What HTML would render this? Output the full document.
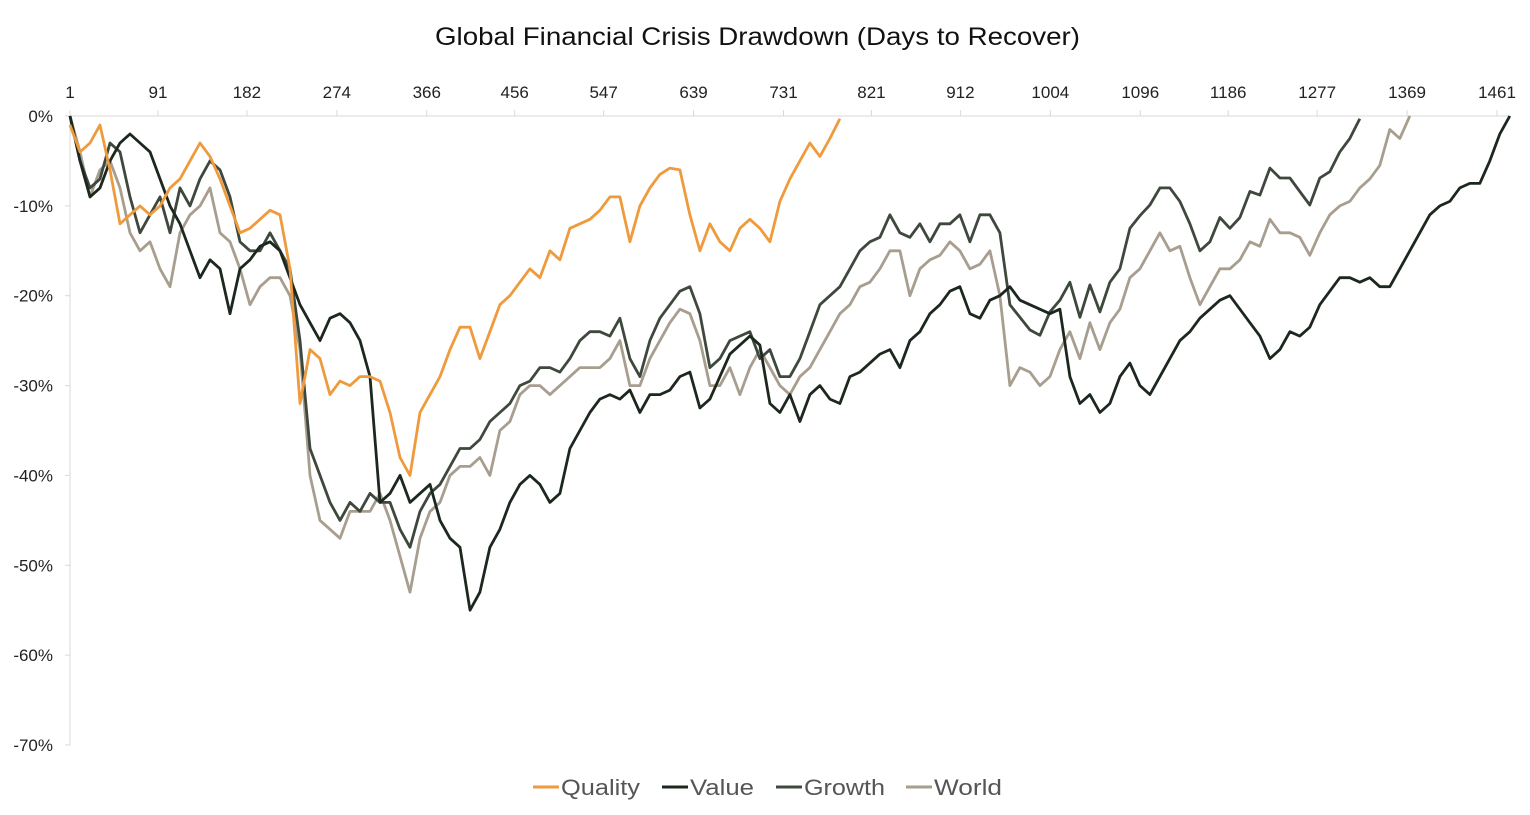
<!DOCTYPE html>
<html><head><meta charset="utf-8">
<style>
body{margin:0;background:#fff;}
svg{display:block;font-family:"Liberation Sans",sans-serif;}
</style></head>
<body>
<svg id="chart" width="1530" height="815">
<text x="435" y="45" textLength="645" lengthAdjust="spacingAndGlyphs" font-size="25" fill="#111">Global Financial Crisis Drawdown (Days to Recover)</text>
<g id="axes"></g>
<g id="series"></g>
<g id="legend"></g>
</svg>
<script>
const xTickLabels = [1,91,182,274,366,456,547,639,731,821,912,1004,1096,1186,1277,1369,1461];
const yTickValues = [0,-10,-20,-30,-40,-50,-60,-70];
const seriesNames = ["Quality","Value","Growth","World"];
const sampleStepDays = 10.23;
const qualityValues = [-1,-4,-3,-1,-6,-12,-11,-10,-11,-10,-8,-7,-5,-3,-4.5,-7,-10,-13,-12.5,-11.5,-10.5,-11,-17,-32,-26,-27,-31,-29.5,-30,-29,-29,-29.5,-33,-38,-40,-33,-31,-29,-26,-23.5,-23.5,-27,-24,-21,-20,-18.5,-17,-18,-15,-16,-12.5,-12,-11.5,-10.5,-9,-9,-14,-10,-8,-6.5,-5.8,-6,-11,-15,-12,-14,-15,-12.5,-11.5,-12.5,-14,-9.5,-7,-5,-3,-4.5,-2.5,-0.3];
const valueValues = [0,-5,-9,-8,-5,-3,-2,-3,-4,-7,-10,-12,-15,-18,-16,-17,-22,-17,-16,-14.5,-14,-15,-18,-21,-23,-25,-22.5,-22,-23,-25,-29,-43,-42,-40,-43,-42,-41,-45,-47,-48,-55,-53,-48,-46,-43,-41,-40,-41,-43,-42,-37,-35,-33,-31.5,-31,-31.5,-30.5,-33,-31,-31,-30.5,-29,-28.5,-32.5,-31.5,-29,-26.5,-25.5,-24.5,-25.5,-32,-33,-31,-34,-31,-30,-31.5,-32,-29,-28.5,-27.5,-26.5,-26,-28,-25,-24,-22,-21,-19.5,-19,-22,-22.5,-20.5,-20,-19,-20.5,-21,-21.5,-22,-21.5,-29,-32,-31,-33,-32,-29,-27.5,-30,-31,-29,-27,-25,-24,-22.5,-21.5,-20.5,-20,-21.5,-23,-24.5,-27,-26,-24,-24.5,-23.5,-21,-19.5,-18,-18,-18.5,-18,-19,-19,-17,-15,-13,-11,-10,-9.5,-8,-7.5,-7.5,-5,-2,0];
const growthValues = [0,-5,-8,-7,-3,-4,-9,-13,-11,-9,-13,-8,-10,-7,-5,-6,-9,-14,-15,-15,-13,-15,-17,-25,-37,-40,-43,-45,-43,-44,-42,-43,-43,-46,-48,-44,-42,-41,-39,-37,-37,-36,-34,-33,-32,-30,-29.5,-28,-28,-28.5,-27,-25,-24,-24,-24.5,-22.5,-27,-29,-25,-22.5,-21,-19.5,-19,-22,-28,-27,-25,-24.5,-24,-27,-26,-29,-29,-27,-24,-21,-20,-19,-17,-15,-14,-13.5,-11,-13,-13.5,-12,-14,-12,-12,-11,-14,-11,-11,-13,-21,-22.4,-23.8,-24.4,-21.8,-20.5,-18.5,-22.4,-18.8,-21.8,-18.5,-17,-12.5,-11.1,-9.9,-8,-8,-9.5,-12,-15,-14,-11.3,-12.5,-11.3,-8.4,-8.8,-5.8,-6.9,-6.9,-8.4,-9.9,-6.9,-6.2,-4,-2.5,-0.3];
const worldValues = [0,-4,-9,-6,-5,-8,-13,-15,-14,-17,-19,-13,-11,-10,-8,-13,-14,-17,-21,-19,-18,-18,-20,-26,-40,-45,-46,-47,-44,-44,-44,-42,-45,-49,-53,-47,-44,-43,-40,-39,-39,-38,-40,-35,-34,-31,-30,-30,-31,-30,-29,-28,-28,-28,-27,-25,-30,-30,-27,-25,-23,-21.5,-22,-25,-30,-30,-28,-31,-28,-26,-28,-30,-31,-29,-28,-26,-24,-22,-21,-19,-18.5,-17,-15,-15,-20,-17,-16,-15.5,-14,-15,-17,-16.5,-15,-20,-30,-28,-28.5,-30,-29,-26,-24,-27,-23,-26,-23,-21.5,-18,-17,-15,-13,-15,-14.5,-18,-21,-19,-17,-17,-16,-14,-14.5,-11.5,-13,-13,-13.5,-15.5,-13,-11,-10,-9.5,-8,-7,-5.5,-1.5,-2.5,0];
const seriesValues = [qualityValues, valueValues, growthValues, worldValues];
const seriesColors = ["#ef9a3c","#1c281e","#3e483d","#a89e8f"];

const NS="http://www.w3.org/2000/svg";
const X0=70, X1=1497, Y0=116, Y1=745;
function xScale(d){return X0+(d-1)*(X1-X0)/(1461-1);}
function yScale(v){return Y0+(0-v)*(Y1-Y0)/70;}
function mk(tag,attrs,parent){const e=document.createElementNS(NS,tag);for(const k in attrs)e.setAttribute(k,attrs[k]);parent.appendChild(e);return e;}

const axes=document.getElementById('axes');
const topAxis=mk('line',{x1:X0,y1:Y0,x2:1510,y2:Y0,stroke:'#d9d9d9','stroke-width':1},axes);


const leftAxis=mk('line',{x1:X0,y1:Y0,x2:X0,y2:Y1,stroke:'#d9d9d9','stroke-width':1},axes);


xTickLabels.forEach(d=>{
  const x=xScale(d);
  const tk=mk('line',{x1:x,y1:Y0-6,x2:x,y2:Y0,stroke:'#d9d9d9'},axes);
  
  
  const t=mk('text',{x:x,y:98,'text-anchor':'middle','font-size':17,fill:'#222'},axes);
  t.textContent=d;
  
  
});
yTickValues.forEach(v=>{
  const y=yScale(v);
  const tk=mk('line',{x1:X0-5,y1:y,x2:X0,y2:y,stroke:'#d9d9d9'},axes);
  
  
  const t=mk('text',{x:53,y:y+6,'text-anchor':'end','font-size':17,fill:'#222'},axes);
  t.textContent=v+'%';
  
  
});

const sg=document.getElementById('series');
seriesValues.slice().reverse().forEach((vals,ri)=>{
  const i=seriesValues.length-1-ri;
  const pts=vals.map((v,k)=>xScale(1+k*sampleStepDays).toFixed(1)+','+yScale(Math.min(v,0)).toFixed(1)).join(' ');
  const pl=mk('polyline',{points:pts,fill:'none',stroke:seriesColors[i],'stroke-width':2.8,'stroke-linejoin':'round'},sg);
  
  
});

const lg=document.getElementById('legend');
const legendX=[533,662,776,906];
const legendW=[79,64,81,68];
seriesNames.forEach((n,i)=>{
  const g=mk('g',{},lg);
  
  
  mk('line',{x1:legendX[i],y1:787,x2:legendX[i]+26,y2:787,stroke:seriesColors[i],'stroke-width':3},g);
  const t=mk('text',{x:legendX[i]+28,y:795,'font-size':22,fill:'#555',textLength:legendW[i],lengthAdjust:'spacingAndGlyphs'},g);
  t.textContent=n;
});
</script>
</body></html>
